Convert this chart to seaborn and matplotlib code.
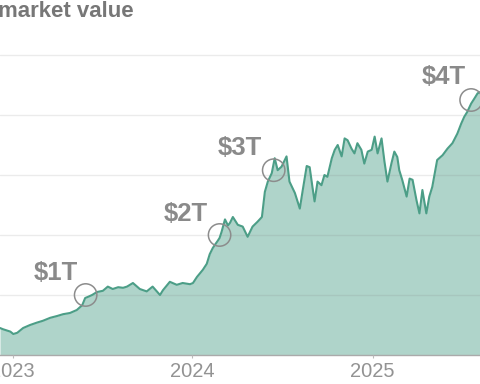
import pandas as pd
import matplotlib
matplotlib.use('Agg')
import matplotlib.pyplot as plt
import seaborn as sns

# market value in trillions of US dollars
dates = [
    '2022-12-06', '2022-12-12', '2022-12-27', '2023-01-02', '2023-01-10', '2023-01-22',
    '2023-02-05', '2023-02-19', '2023-03-03', '2023-03-18', '2023-04-01', '2023-04-13',
    '2023-04-27', '2023-05-11', '2023-05-22', '2023-05-28', '2023-06-03', '2023-06-11',
    '2023-06-21', '2023-07-03', '2023-07-13', '2023-07-23', '2023-08-03', '2023-08-13',
    '2023-08-21', '2023-09-02', '2023-09-16', '2023-09-30', '2023-10-12', '2023-10-27',
    '2023-11-02', '2023-11-16', '2023-11-30', '2023-12-12', '2023-12-27', '2024-01-02',
    '2024-01-10', '2024-01-16', '2024-01-22', '2024-01-30', '2024-02-05', '2024-02-11',
    '2024-02-15', '2024-02-21', '2024-02-25', '2024-02-29', '2024-03-07', '2024-03-13',
    '2024-03-17', '2024-03-23', '2024-04-02', '2024-04-12', '2024-04-22', '2024-05-02',
    '2024-05-12', '2024-05-21', '2024-05-27', '2024-06-02', '2024-06-10', '2024-06-16',
    '2024-06-22', '2024-06-30', '2024-07-10', '2024-07-16', '2024-07-27', '2024-08-06',
    '2024-08-12', '2024-08-20', '2024-08-26', '2024-09-01', '2024-09-05', '2024-09-11',
    '2024-09-19', '2024-09-25', '2024-10-01', '2024-10-10', '2024-10-16', '2024-10-22',
    '2024-10-30', '2024-11-05', '2024-11-11', '2024-11-19', '2024-11-25', '2024-12-01',
    '2024-12-09', '2024-12-15', '2024-12-22', '2024-12-30', '2025-01-05', '2025-01-11',
    '2025-01-19', '2025-01-25', '2025-01-31', '2025-02-08', '2025-02-14', '2025-02-20',
    '2025-02-24', '2025-03-02', '2025-03-11', '2025-03-17', '2025-03-23', '2025-03-31',
    '2025-04-06', '2025-04-12', '2025-04-20', '2025-04-26', '2025-05-02', '2025-05-12',
    '2025-05-23', '2025-06-02', '2025-06-12', '2025-06-22', '2025-06-30', '2025-07-06',
    '2025-07-12', '2025-07-20', '2025-07-27', '2025-08-02', '2025-08-06',
]
values = [
    0.45, 0.43, 0.39, 0.35, 0.37, 0.45,
    0.50, 0.54, 0.57, 0.62, 0.65, 0.68,
    0.70, 0.75, 0.83, 0.95, 0.97, 1.00,
    1.05, 1.07, 1.14, 1.10, 1.13, 1.12,
    1.14, 1.20, 1.10, 1.06, 1.14, 1.00,
    1.08, 1.22, 1.17, 1.20, 1.18, 1.20,
    1.30, 1.36, 1.42, 1.52, 1.68, 1.78,
    1.83, 1.90, 1.95, 2.05, 2.26, 2.16,
    2.20, 2.30, 2.17, 2.14, 1.97, 2.14,
    2.22, 2.30, 2.72, 2.89, 3.03, 3.28,
    3.08, 3.14, 3.31, 2.89, 2.70, 2.44,
    2.75, 3.15, 3.13, 2.78, 2.56, 2.89,
    2.83, 3.00, 2.97, 3.28, 3.42, 3.50,
    3.31, 3.61, 3.58, 3.44, 3.36, 3.53,
    3.42, 3.19, 3.39, 3.42, 3.64, 3.36,
    3.61, 3.22, 2.89, 3.19, 3.39, 3.30,
    3.08, 2.92, 2.64, 2.94, 2.92, 2.58,
    2.36, 2.75, 2.36, 2.64, 2.80, 3.25,
    3.33, 3.44, 3.53, 3.69, 3.86, 3.97,
    4.05, 4.19, 4.28, 4.36, 4.38,
]

milestone_dates = ['2023-05-29', '2024-02-25', '2024-06-14', '2025-07-20']
milestone_values = [1.0, 2.0, 3.08, 4.25]
milestone_labels = ['$1T', '$2T', '$3T', '$4T']
label_offsets = [(-8, 10), (-12, 9), (-12, 10), (-5, 11)]  # pixels from circle centre

year_ticks = ['2023-01-01', '2024-01-01', '2025-01-01']
year_labels = ['2023', '2024', '2025']
grid_values = [1, 2, 3, 4, 5]

df = pd.DataFrame({'date': pd.to_datetime(dates), 'value': values})
marks = pd.DataFrame({'date': pd.to_datetime(milestone_dates), 'value': milestone_values})

sns.set_theme(style='white')
plt.rcParams['font.family'] = ['Liberation Sans', 'DejaVu Sans']

fill_color = '#afd4ca'
line_color = '#4c9e87'
grey = '#8a8a8a'

fig = plt.figure(figsize=(4.8, 3.84), dpi=100)
ax = fig.add_axes([0, 29 / 384, 1, 355 / 384])

ax.fill_between(df['date'], 0, df['value'], color=fill_color, lw=0, zorder=1)
sns.lineplot(data=df, x='date', y='value', ax=ax, color=line_color, lw=1.5, zorder=3)

sns.scatterplot(data=marks, x='date', y='value', ax=ax, s=260, marker='o',
                facecolors='none', edgecolor='#8c8c8c', linewidth=1.1, zorder=4)

px = 72 / 100
for d, v, lab, (dx, dy) in zip(marks['date'], marks['value'], milestone_labels, label_offsets):
    ax.annotate(lab, (d, v), xytext=(dx * px, dy * px), textcoords='offset points',
                ha='right', va='bottom', fontsize=18.5, fontweight='bold', color=grey, zorder=5)

ax.set_xlim(pd.Timestamp('2022-12-06'), pd.Timestamp('2025-08-07'))
ax.set_ylim(0, 355 / 60)
ax.set_xticks(pd.to_datetime(year_ticks))
ax.set_xticklabels(year_labels)
ax.set_yticks(grid_values)
ax.yaxis.grid(True, color='#7c7c7c', alpha=0.15, lw=1)
ax.set_axisbelow(False)
ax.tick_params(axis='y', left=False, labelleft=False)
ax.tick_params(axis='x', bottom=True, length=2.2, width=0.8, color='#bbbbbb',
               labelsize=14.5, labelcolor='#939393', pad=3)
ax.set_xlabel('')
ax.set_ylabel('')
for side in ['top', 'left', 'right']:
    ax.spines[side].set_visible(False)
ax.spines['bottom'].set_color('#aaaaaa')
ax.spines['bottom'].set_linewidth(1)

fig.text(-0.004, 0.997, 'market value', ha='left', va='top', fontsize=16,
         fontweight='bold', color='#777777')

fig.savefig('out.png', dpi=100)
